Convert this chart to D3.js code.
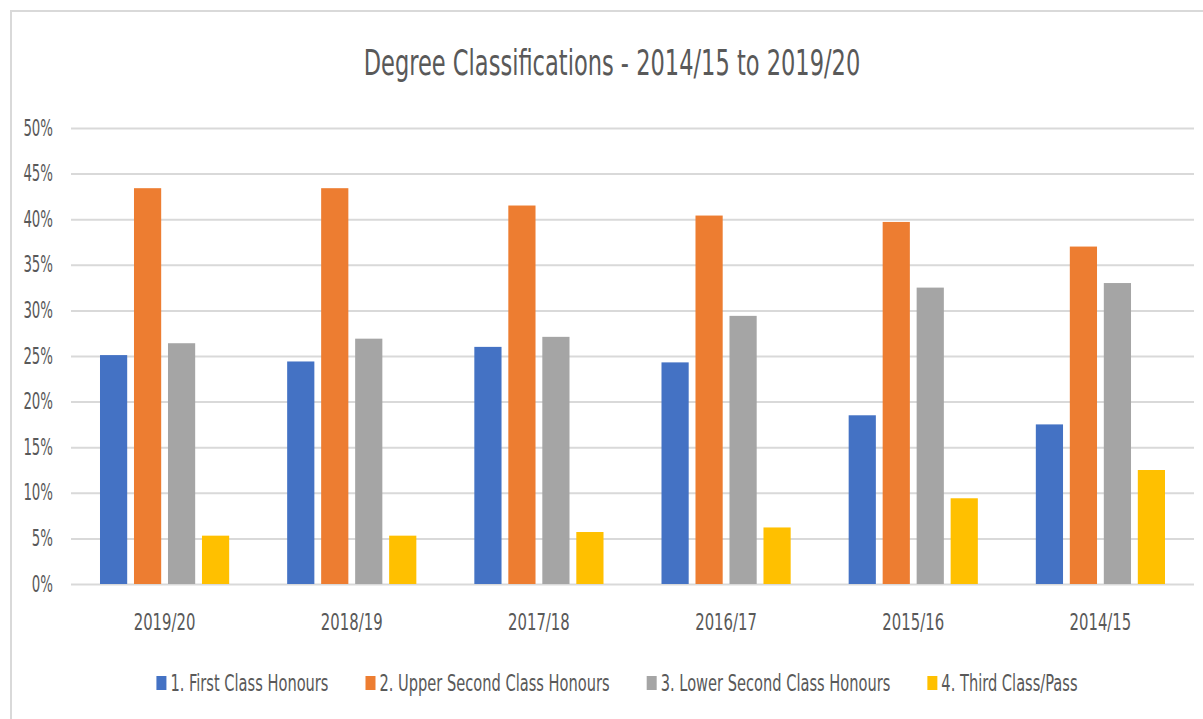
<!DOCTYPE html>
<html>
<head>
<meta charset="utf-8">
<script src="https://cdn.jsdelivr.net/npm/d3@7/dist/d3.min.js"></script>
<style>
  html, body { margin: 0; padding: 0; background: #fff; }
  svg { display: block; }
  text { font-family: "Liberation Sans Narrow", "Arial Narrow", "DejaVu Sans Condensed", sans-serif; fill: #595959; }
</style>
</head>
<body>
<svg id="chart"></svg>
<script>
var categories = ["2019/20", "2018/19", "2017/18", "2016/17", "2015/16", "2014/15"];
var firstClass = [25.1, 24.4, 26.0, 24.3, 18.5, 17.5];
var upperSecond = [43.4, 43.4, 41.5, 40.4, 39.7, 37.0];
var lowerSecond = [26.4, 26.9, 27.1, 29.4, 32.5, 33.0];
var thirdPass = [5.3, 5.3, 5.7, 6.2, 9.4, 12.5];
var seriesNames = ["1. First Class Honours", "2. Upper Second Class Honours", "3. Lower Second Class Honours", "4. Third Class/Pass"];
var seriesColors = ["#4472C4", "#ED7D31", "#A5A5A5", "#FFC000"];
var yTicks = [0, 5, 10, 15, 20, 25, 30, 35, 40, 45, 50];
var title = "Degree Classifications - 2014/15 to 2019/20";

var series = [firstClass, upperSecond, lowerSecond, thirdPass];

var width = 1203, height = 719;
var plot = {left: 71, right: 1194, top: 128, bottom: 584};
// the text in the picture is drawn tall and narrow
var sy = 1.25;
function squeeze(sx) { return " scale(" + sx + "," + sy + ")"; }

var svg = d3.select("#chart").attr("width", width).attr("height", height);

// chart frame (runs off the right and bottom edge)
svg.append("rect")
  .attr("x", 11).attr("y", 11)
  .attr("width", 1220).attr("height", 730)
  .attr("fill", "#fff")
  .attr("stroke", "#d9d9d9")
  .attr("stroke-width", 2);

var y = d3.scaleLinear().domain([0, 50]).range([plot.bottom, plot.top]);

var x0 = d3.scaleBand()
  .domain(categories)
  .range([plot.left, plot.right])
  .paddingInner(0.2735)
  .paddingOuter(0.2735 / 2);

var x1 = d3.scaleBand()
  .domain(d3.range(series.length))
  .range([0, x0.bandwidth()])
  .paddingInner(0.2)
  .paddingOuter(0.1);

// y axis + gridlines
var yAxis = svg.append("g")
  .attr("transform", "translate(" + plot.left + ",0)")
  .call(d3.axisLeft(y)
    .tickValues(yTicks)
    .tickSize(-(plot.right - plot.left))
    .tickFormat(function(d) { return d + "%"; }));
yAxis.select(".domain").remove();
yAxis.selectAll(".tick line")
  .attr("stroke", "#d9d9d9")
  .attr("stroke-width", 2);
yAxis.selectAll(".tick text")
  .attr("x", 0).attr("dy", null)
  .attr("transform", "translate(-18,7)" + squeeze(0.78))
  .style("font-size", "19px")
  .attr("fill", "#595959");

// bars
var groups = svg.append("g").selectAll("g")
  .data(categories)
  .enter().append("g")
  .attr("transform", function(d) { return "translate(" + x0(d) + ",0)"; });

groups.selectAll("rect")
  .data(function(d, i) {
    return series.map(function(s, k) { return {k: k, v: s[i]}; });
  })
  .enter().append("rect")
  .attr("x", function(d) { return x1(d.k); })
  .attr("y", function(d) { return y(d.v); })
  .attr("width", x1.bandwidth())
  .attr("height", function(d) { return y(0) - y(d.v); })
  .attr("fill", function(d) { return seriesColors[d.k]; });

// category axis
var xAxis = svg.append("g")
  .attr("transform", "translate(0," + plot.bottom + ")")
  .call(d3.axisBottom(x0).tickSize(0));
xAxis.select(".domain").remove();
xAxis.selectAll(".tick text")
  .attr("y", 0).attr("dy", null)
  .attr("transform", "translate(0,46)" + squeeze(0.87))
  .style("font-size", "19px")
  .attr("fill", "#595959");

// title
svg.append("text")
  .attr("text-anchor", "middle")
  .attr("transform", "translate(612,75)" + squeeze(0.895))
  .style("font-size", "28px")
  .text(title);

// legend
var legendSx = 0.856, legendGap = 37;
var legend = svg.append("g");
var items = legend.selectAll("g")
  .data(seriesNames)
  .enter().append("g");
items.append("rect")
  .attr("x", 0).attr("y", -15)
  .attr("width", 10).attr("height", 14)
  .attr("fill", function(d, i) { return seriesColors[i]; });
items.append("text")
  .attr("transform", "translate(14,0)" + squeeze(legendSx))
  .style("font-size", "19px")
  .text(function(d) { return d; });

var offsets = [], pos = 0;
items.each(function() {
  offsets.push(pos);
  pos += 14 + d3.select(this).select("text").node().getComputedTextLength() * legendSx + legendGap;
});
var total = pos - legendGap;
var startX = 617 - total / 2;
items.attr("transform", function(d, i) {
  return "translate(" + (startX + offsets[i]) + ",691)";
});
</script>
</body>
</html>
